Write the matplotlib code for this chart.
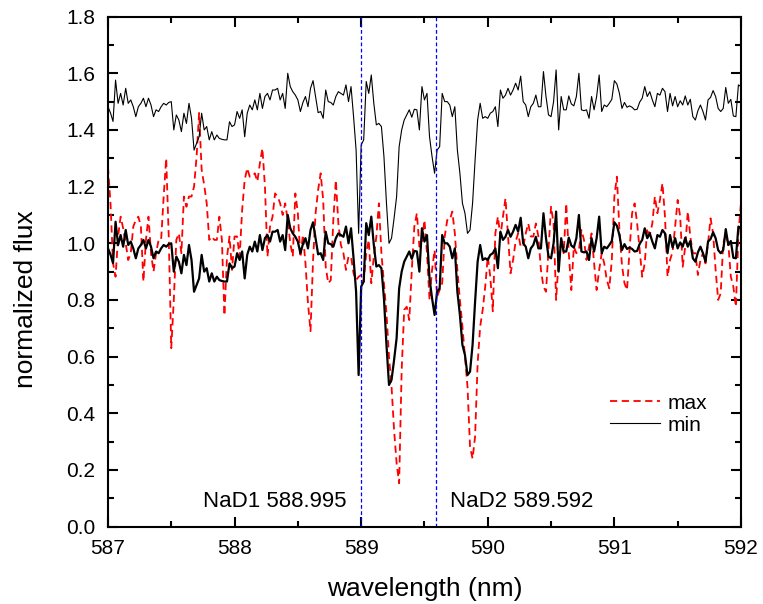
import numpy as np
import matplotlib.pyplot as plt
from matplotlib.ticker import MultipleLocator

# =========================
# DATA
# =========================
wl_start, wl_step = 587.0, 0.02   # spectral sampling, nm

min_flux = [
    0.982, 0.96, 0.93, 1.076, 0.994, 1.029, 0.988, 1.047, 0.994, 1.006,
    0.982, 0.947, 0.982, 0.994, 1.012, 0.982, 1.012, 0.988, 0.947, 0.971,
    0.965, 0.982, 0.994, 0.988, 0.997, 1.0, 0.90, 0.953, 0.935, 0.894,
    0.959, 0.923, 0.994, 0.941, 0.829, 0.853, 0.876, 0.959, 0.90, 0.912,
    0.865, 0.894, 0.865, 0.882, 0.87, 0.867, 0.865, 0.865, 0.929, 0.912,
    0.918, 0.965, 0.941, 0.971, 0.876, 0.959, 0.988, 0.971, 1.006, 0.971,
    1.029, 0.976, 1.018, 1.029, 1.006, 1.041, 1.041, 1.047, 1.006, 1.029,
    0.976, 1.10, 1.053, 1.035, 1.023, 1.006, 0.965, 0.997, 1.018, 0.982,
    1.047, 1.074, 1.018, 0.961, 0.965, 0.941, 1.041, 1.0, 0.997, 0.988,
    1.018, 1.035, 1.029, 1.023, 1.059, 1.0, 1.053, 0.947, 0.829, 0.535,
    0.847, 0.865, 1.071, 1.029, 1.094, 0.994, 0.918, 0.923, 0.912, 0.806,
    0.641, 0.50, 0.518, 0.588, 0.665, 0.841, 0.90, 0.935, 0.953, 0.971,
    0.945, 0.973, 0.971, 0.90, 1.053, 1.006, 1.029, 0.876, 0.806, 0.747,
    0.829, 0.841, 1.029, 1.0, 1.0, 0.988, 0.947, 0.982, 0.829, 0.747,
    0.641, 0.606, 0.535, 0.547, 0.641, 0.794, 0.935, 0.994, 0.941, 0.947,
    0.941, 0.959, 0.965, 0.982, 0.912, 1.041, 1.012, 1.023, 1.047, 1.023,
    1.041, 1.065, 1.041, 1.09, 1.0, 0.988, 0.947, 0.982, 0.994, 1.023,
    0.982, 0.982, 1.106, 1.018, 0.953, 0.947, 1.0, 1.112, 0.90, 1.018,
    0.971, 0.971, 1.02, 0.992, 0.985, 1.018, 1.10, 0.971, 0.968, 0.971,
    0.941, 1.018, 0.971, 1.018, 1.094, 0.965, 0.988, 0.982, 0.994, 1.008,
    1.074, 1.062, 1.029, 0.976, 0.997, 0.98, 0.985, 0.98, 0.971, 0.973,
    0.998, 1.012, 1.053, 1.018, 1.035, 1.006, 0.982, 1.029, 1.023, 1.047,
    1.035, 0.965, 1.029, 0.985, 1.018, 0.982, 1.003, 0.988, 1.02, 0.988,
    1.008, 0.947, 0.935, 0.968, 0.988, 0.965, 0.935, 1.006, 1.015, 1.039,
    1.018, 0.976, 0.965, 0.976, 1.05, 0.994, 1.008, 0.949, 0.947, 1.059,
    1.053,
]

max_flux = [
    1.27, 1.141, 0.93, 0.882, 1.024, 1.094, 1.053, 1.0, 0.941, 0.965,
    1.059, 1.082, 1.094, 1.059, 0.865, 1.012, 1.094, 0.965, 0.9, 0.965,
    1.012, 1.012, 1.165, 1.30, 1.024, 0.63, 0.80, 1.012, 1.035, 0.965,
    1.165, 1.129, 1.165, 1.165, 1.2, 1.306, 1.46, 1.26, 1.206, 1.141,
    1.012, 1.024, 1.012, 1.012, 1.094, 1.012, 0.745, 0.95, 1.024, 0.906,
    1.024, 1.024, 0.953, 1.118, 1.224, 1.265, 1.235, 1.235, 1.247, 1.218,
    1.282, 1.335, 1.2, 0.953, 1.059, 1.094, 1.176, 1.165, 1.141, 1.1,
    1.141, 1.082, 1.0, 0.953, 1.176, 1.106, 0.95, 1.03, 0.93, 0.788,
    0.69, 0.941, 1.106, 1.188, 1.247, 1.153, 0.917, 0.859, 0.87, 1.082,
    1.223, 1.07, 0.994, 0.965, 0.906, 0.953, 0.953, 0.894, 0.87, 0.882,
    0.888, 0.864, 0.965, 1.012, 0.859, 0.953, 1.024, 1.141, 0.965, 0.859,
    0.753, 0.6, 0.494, 0.341, 0.224, 0.153, 0.553, 0.765, 0.776, 0.729,
    0.906, 1.059, 1.106, 0.988, 1.0, 1.082, 0.965, 0.8, 0.906, 0.976,
    0.812, 0.835, 0.859, 1.024, 1.082, 1.082, 1.112, 1.035, 0.906, 0.8,
    0.706, 0.6, 0.494, 0.282, 0.24, 0.318, 0.576, 0.706, 0.765, 0.847,
    0.953, 0.882, 0.76, 1.035, 1.094, 1.024, 1.094, 1.159, 1.024, 0.894,
    0.941, 1.006, 1.035, 0.988, 0.988, 1.035, 1.07, 1.024, 1.024, 1.07,
    1.024, 0.906, 0.847, 0.829, 0.976, 1.129, 1.07, 0.8, 0.941, 1.006,
    0.965, 1.141, 0.965, 0.835, 0.988, 0.965, 0.976, 1.047, 1.012, 0.941,
    0.988, 1.035, 0.929, 0.835, 0.906, 0.965, 0.929, 0.871, 0.841, 0.941,
    1.165, 1.235, 1.047, 0.923, 0.859, 0.835, 0.976, 1.106, 1.141, 1.07,
    0.976, 0.882, 0.929, 1.053, 1.029, 1.07, 1.165, 1.106, 1.153, 1.212,
    1.094, 0.882, 0.941, 0.97, 1.059, 1.153, 1.094, 0.917, 0.988, 1.112,
    1.024, 0.965, 0.965, 0.888, 0.941, 0.965, 0.929, 1.0, 1.088, 1.035,
    0.906, 0.8, 0.823, 1.0, 1.029, 1.0, 0.882, 0.847, 0.776, 1.035,
    1.141,
]

# thin "min" copy is shifted up by this amount
offset = 0.5

lines_nm = [588.995, 589.592]
line_names = ["NaD1 588.995", "NaD2 589.592"]

# =========================
# PLOT
# =========================
wl = wl_start + wl_step * np.arange(len(min_flux))
min_flux = np.array(min_flux)
max_flux = np.array(max_flux)

plt.rcParams['font.family'] = ['Liberation Sans', 'DejaVu Sans']

fig = plt.figure(figsize=(7.63, 6.04), dpi=100)
ax = fig.add_axes([0.1415, 0.1281, 0.8296, 0.8444])

ax.plot(wl, max_flux, color='red', lw=1.3, ls=(0, (4, 2.5)), label='max')
ax.plot(wl, min_flux + offset, color='black', lw=0.8, label='min')
ax.plot(wl, min_flux, color='black', lw=1.6)

for x in lines_nm:
    ax.axvline(x, color='blue', lw=0.9, ls=(0, (3, 2)))

ax.text(lines_nm[0] - 0.11, 0.09, line_names[0], ha='right', va='center', fontsize=16)
ax.text(lines_nm[1] + 0.11, 0.09, line_names[1], ha='left', va='center', fontsize=16)

ax.set_xlim(587, 592)
ax.set_ylim(0, 1.8)
ax.xaxis.set_major_locator(MultipleLocator(1))
ax.xaxis.set_minor_locator(MultipleLocator(0.5))
ax.yaxis.set_major_locator(MultipleLocator(0.2))
ax.yaxis.set_minor_locator(MultipleLocator(0.1))
ax.yaxis.set_major_formatter(plt.FormatStrFormatter('%.1f'))
ax.xaxis.set_major_formatter(plt.FormatStrFormatter('%d'))

ax.tick_params(which='both', direction='in', top=True, right=True, width=1.5)
ax.tick_params(which='major', length=7, labelsize=15, pad=9)
ax.tick_params(which='minor', length=4)
for s in ax.spines.values():
    s.set_linewidth(1.5)

ax.set_xlabel('wavelength (nm)', fontsize=19)
ax.set_ylabel('normalized flux', fontsize=19)
ax.xaxis.set_label_coords(0.5, -0.098)
ax.yaxis.set_label_coords(-0.11, 0.446)

ax.legend(loc='center left', bbox_to_anchor=(0.793, 0.2205), frameon=False,
          fontsize=15, handlelength=2.4, handletextpad=0.35,
          labelspacing=0.15, borderpad=0, borderaxespad=0)

fig.savefig('out.png', dpi=100)
